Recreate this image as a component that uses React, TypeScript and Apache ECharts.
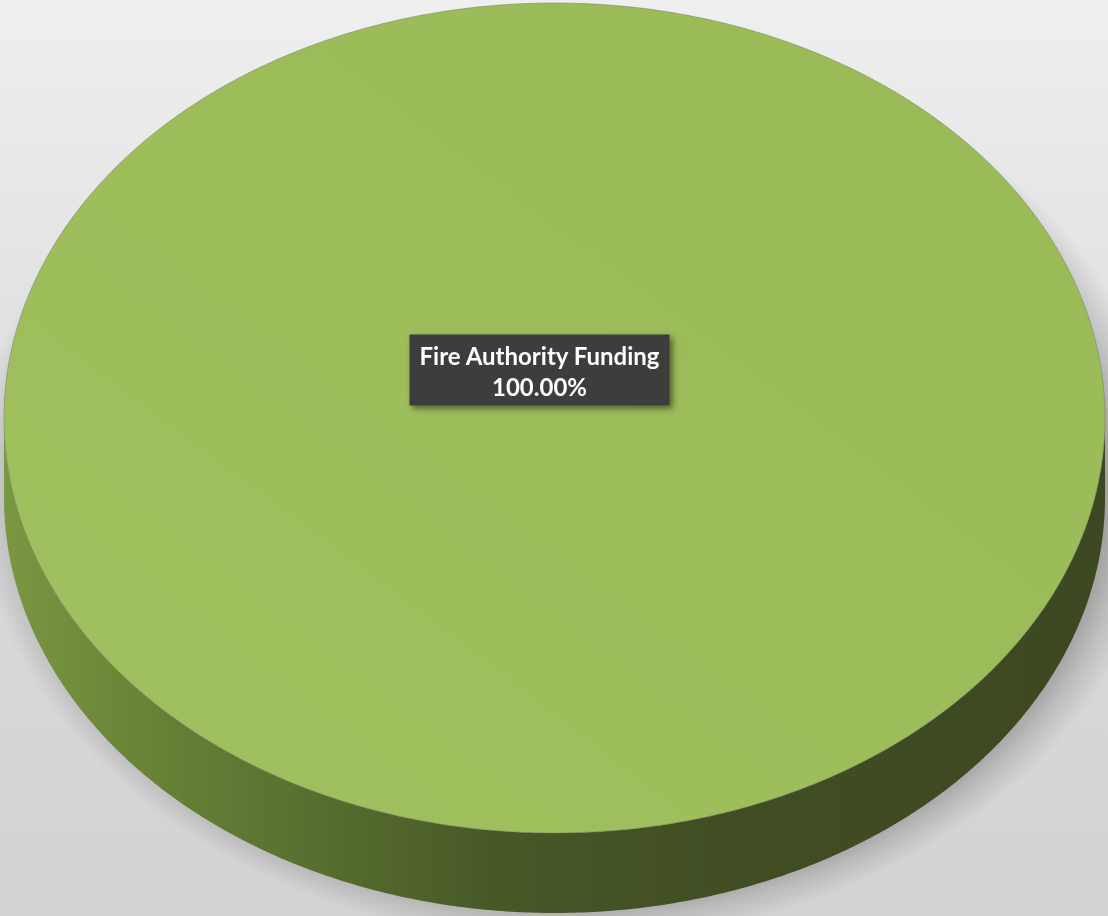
import React, { useEffect, useRef } from "react";
import * as echarts from "echarts";

const categories = ["Fire Authority Funding"];
const values = [100];

const W = 1108;
const H = 916;

export default function App() {
  const ref = useRef<HTMLDivElement>(null);
  useEffect(() => {
    if (!ref.current) return;
    const chart = echarts.init(ref.current, null, { renderer: "svg" });
    const total = values.reduce((a, b) => a + b, 0);
    const data = categories.map((c, i) => ({ name: c, value: values[i] }));

    const cx = 554.5;
    const cy = 418;
    const rx = 550.5;
    const ry = 415;
    const depth = 80;

    const ellPts = (a0: number, a1: number, dy: number, n: number) => {
      const pts: number[][] = [];
      for (let k = 0; k <= n; k++) {
        const a = a0 + ((a1 - a0) * k) / n;
        pts.push([cx + rx * Math.cos(a), cy + dy + ry * Math.sin(a)]);
      }
      return pts;
    };

    const sideGrad = new echarts.graphic.LinearGradient(0, 0, 1, 0, [
      { offset: 0, color: "#7a9742" },
      { offset: 0.12, color: "#6a8438" },
      { offset: 0.3, color: "#566c2e" },
      { offset: 0.45, color: "#475827" },
      { offset: 0.65, color: "#414e24" },
      { offset: 1, color: "#3c4821" },
    ]);
    const topGrad = new echarts.graphic.LinearGradient(0, 1, 1, 0, [
      { offset: 0, color: "#a1c160" },
      { offset: 0.5, color: "#9dbd5b" },
      { offset: 1, color: "#9aba57" },
    ]);
    const shadowGrad = new echarts.graphic.RadialGradient(0.5, 0.5, 0.5, [
      { offset: 0, color: "rgba(0,0,0,0.28)" },
      { offset: 0.9, color: "rgba(0,0,0,0.28)" },
      { offset: 0.95, color: "rgba(0,0,0,0.12)" },
      { offset: 1, color: "rgba(0,0,0,0)" },
    ]);

    chart.setOption({
      animation: false,
      graphic: [
        {
          type: "rect",
          z: -10,
          shape: { x: 0, y: 0, width: W, height: H },
          style: {
            fill: new echarts.graphic.LinearGradient(0, 0, 0, 1, [
              { offset: 0, color: "#efefef" },
              { offset: 0.5, color: "#dcdcdc" },
              { offset: 1, color: "#d2d2d2" },
            ]),
          },
        },
      ],
      series: [
        {
          type: "custom",
          coordinateSystem: "none",
          data: data.map((d) => d.value),
          renderItem: (params: any, api: any) => {
            const idx = params.dataIndex;
            let start = 0;
            for (let i = 0; i < idx; i++) start += values[i];
            const v = api.value(0);
            const pct = (v / total) * 100;
            const a0 = -Math.PI / 2 + (start / total) * Math.PI * 2;
            const a1 = a0 + (v / total) * Math.PI * 2;
            const full = pct >= 99.999;
            const n = Math.max(8, Math.round((a1 - a0) * 120));
            const topPts = full
              ? ellPts(0, Math.PI * 2, 0, 720)
              : [[cx, cy], ...ellPts(a0, a1, 0, n)];
            const s0 = Math.max(a0, 0);
            const s1 = Math.min(a1, Math.PI);
            const children: any[] = [];
            if (idx === 0) {
              children.push({
                type: "ellipse",
                shape: { cx: cx + 14, cy: cy + depth - 16, rx: rx + 44, ry: ry + 44 },
                style: { fill: shadowGrad },
              });
            }
            if (s1 > s0) {
              const upper = ellPts(s0, s1, 0, 360);
              const lower = ellPts(s0, s1, depth, 360).reverse();
              children.push({
                type: "polygon",
                shape: { points: [...upper, ...lower] },
                style: { fill: sideGrad },
              });
            }
            children.push({
              type: "polygon",
              shape: { points: topPts },
              style: {
                fill: topGrad,
                stroke: "rgba(120,130,100,0.55)",
                lineWidth: 1,
              },
            });
            const mid = (a0 + a1) / 2;
            const lx = full ? cx - 15 : cx + rx * 0.5 * Math.cos(mid);
            const ly = full ? cy - 48 : cy + ry * 0.5 * Math.sin(mid);
            const bw = 260;
            const bh = 71;
            children.push({
              type: "rect",
              shape: { x: lx - bw / 2, y: ly - bh / 2, width: bw, height: bh },
              style: {
                fill: "#3c3c3c",
                shadowBlur: 6,
                shadowOffsetX: 3,
                shadowOffsetY: 3,
                shadowColor: "rgba(0,0,0,0.5)",
              },
            });
            children.push({
              type: "text",
              x: lx,
              y: ly + 1,
              style: {
                text: categories[idx] + "\n" + pct.toFixed(2) + "%",
                fill: "#ffffff",
                fontFamily: "Lato",
                fontWeight: "bold",
                fontSize: 24,
                lineHeight: 31,
                align: "center",
                verticalAlign: "middle",
              },
            });
            return { type: "group", children };
          },
        },
      ],
    });
    return () => chart.dispose();
  }, []);
  return (
    <div
      ref={ref}
      style={{ position: "fixed", left: 0, top: 0, width: W, height: H }}
    />
  );
}
